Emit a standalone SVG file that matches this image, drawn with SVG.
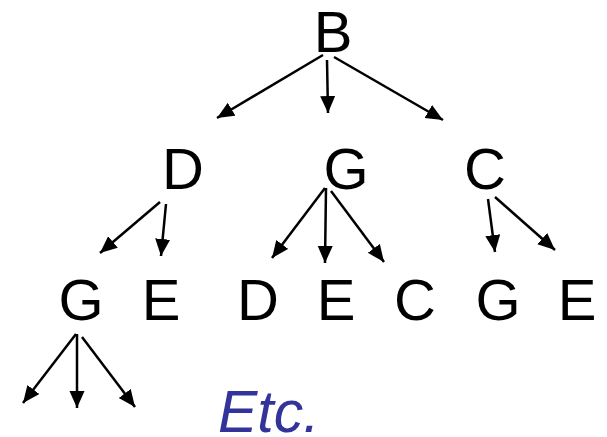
<svg xmlns="http://www.w3.org/2000/svg" width="607" height="437" viewBox="0 0 607 437">
<defs>
<marker id="ah" markerUnits="userSpaceOnUse" markerWidth="18" markerHeight="16" refX="17" refY="7.5" orient="auto">
<path d="M0,0 L17,7.5 L0,15 z" fill="#000"/>
</marker>
<style>
.n{font-family:"Liberation Sans",Arial,sans-serif;font-size:58px;fill:#000;text-anchor:middle}
.e line{stroke:#000;stroke-width:2.5;marker-end:url(#ah)}
.etc{font-family:"Liberation Sans",Arial,sans-serif;font-size:59px;font-style:italic;fill:#333399}
</style>
</defs>
<rect width="607" height="437" fill="#fff"/>
<g id="edges" class="e">
<line x1="323" y1="55" x2="217" y2="118"/>
<line x1="327" y1="60" x2="328" y2="113"/>
<line x1="334" y1="57" x2="443" y2="120"/>
<line x1="160" y1="202" x2="100" y2="253"/>
<line x1="166" y1="204" x2="161" y2="256"/>
<line x1="325" y1="188" x2="272" y2="258"/>
<line x1="326" y1="188" x2="325" y2="263"/>
<line x1="331" y1="191" x2="384" y2="262"/>
<line x1="488" y1="199" x2="495" y2="252"/>
<line x1="495" y1="197" x2="555" y2="250"/>
<line x1="76" y1="334" x2="23" y2="403"/>
<line x1="77" y1="334" x2="77" y2="408"/>
<line x1="82" y1="337" x2="135" y2="407"/>
</g>
<g id="n-B"><text class="n" x="333" y="52">B</text></g>
<g id="n-D1"><text class="n" x="183" y="189">D</text></g>
<g id="n-G1"><text class="n" x="346" y="189">G</text></g>
<g id="n-C1"><text class="n" x="485" y="189">C</text></g>
<g id="n-G2"><text class="n" x="81" y="320">G</text></g>
<g id="n-E2"><text class="n" x="161" y="320">E</text></g>
<g id="n-D2"><text class="n" x="258" y="320">D</text></g>
<g id="n-E3"><text class="n" x="336" y="320">E</text></g>
<g id="n-C2"><text class="n" x="415" y="320">C</text></g>
<g id="n-G3"><text class="n" x="498" y="320">G</text></g>
<g id="n-E4"><text class="n" x="577" y="320">E</text></g>
<g id="etc"><text class="etc" x="218" y="432">Etc.</text></g>
</svg>
